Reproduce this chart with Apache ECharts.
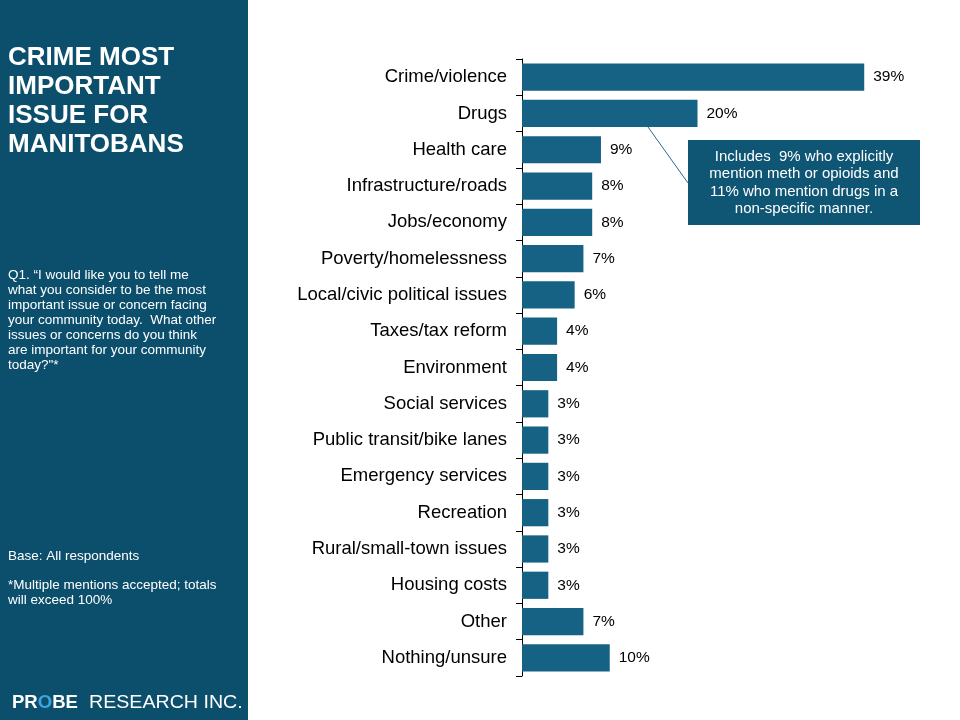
<!DOCTYPE html>
<html><head><meta charset="utf-8">
<script src="https://cdn.jsdelivr.net/npm/echarts@6/dist/echarts.min.js"></script>
<style>html,body{margin:0;padding:0;background:#fff}#c{width:960px;height:720px}</style>
</head><body><div id="c"></div>
<script>
const categories = ["Crime/violence","Drugs","Health care","Infrastructure/roads","Jobs/economy","Poverty/homelessness","Local/civic political issues","Taxes/tax reform","Environment","Social services","Public transit/bike lanes","Emergency services","Recreation","Rural/small-town issues","Housing costs","Other","Nothing/unsure"];
const values = [39,20,9,8,8,7,6,4,4,3,3,3,3,3,3,7,10];
const titleText = "CRIME MOST\nIMPORTANT\nISSUE FOR\nMANITOBANS";
const questionText = "Q1. \u201cI would like you to tell me\nwhat you consider to be the most\nimportant issue or concern facing\nyour community today.  What other\nissues or concerns do you think\nare important for your community\ntoday?\"*";
const baseText = "Base: All respondents";
const noteText = "*Multiple mentions accepted; totals\nwill exceed 100%";
const calloutText = "Includes  9% who explicitly\nmention meth or opioids and\n11% who mention drugs in a\nnon-specific manner.";

const chart = echarts.init(document.getElementById('c'), null, {renderer:'canvas'});
const F = '"Liberation Sans", Arial, sans-serif';
chart.setOption({
  animation:false,
  backgroundColor:'#ffffff',
  grid:{left:522, top:59, width:351, height:617, containLabel:false},
  xAxis:{type:'value', min:0, max:40, show:false},
  yAxis:{type:'category', data:categories, inverse:true,
    axisLine:{show:true, lineStyle:{color:'#000', width:1}},
    axisTick:{show:true, length:6, lineStyle:{color:'#000'}},
    axisLabel:{fontFamily:F, fontSize:18.5, color:'#000', margin:15}
  },
  series:[{type:'bar', data:values, barCategoryGap:'25%',
    itemStyle:{color:'#166284'},
    label:{show:true, position:'right', distance:9, formatter:'{c}%', fontFamily:F, fontSize:15.5, color:'#000'}
  }],
  graphic:[
    {type:'rect', left:0, top:0, shape:{width:248, height:720}, style:{fill:'#0c4f6c'}, z:-1},
    {type:'text', left:8, top:43, style:{text:titleText, fill:'#fff', font:'bold 26px '+F, lineHeight:29}},
    {type:'text', left:8, top:268, style:{text:questionText, fill:'#fff', font:'13.5px '+F, lineHeight:15}},
    {type:'text', left:8, top:549, style:{text:baseText, fill:'#fff', font:'13.5px '+F}},
    {type:'text', left:8, top:578, style:{text:noteText, fill:'#fff', font:'13.5px '+F, lineHeight:15}},
    {type:'text', x:12, y:694, scaleX:1.03, style:{
      text:'{b|PR}{o|O}{b|BE}',
      rich:{
        b:{fill:'#fff', font:'bold 18px '+F},
        o:{fill:'#3aa6e0', font:'bold 18px '+F}
      }}},
    {type:'text', x:89, y:694, scaleX:1.09, style:{text:'RESEARCH INC.', fill:'#fff', font:'18px '+F}},
    {type:'line', shape:{x1:648, y1:127, x2:688, y2:183}, style:{stroke:'#2a6a8a', lineWidth:1}},
    {type:'rect', shape:{x:688, y:140, width:232, height:85}, style:{fill:'#0f5574'}},
    {type:'text', x:804, y:183, style:{text:calloutText, fill:'#fff', font:'15px '+F, lineHeight:17.5, align:'center', verticalAlign:'middle'}}
  ]
});
</script></body></html>
